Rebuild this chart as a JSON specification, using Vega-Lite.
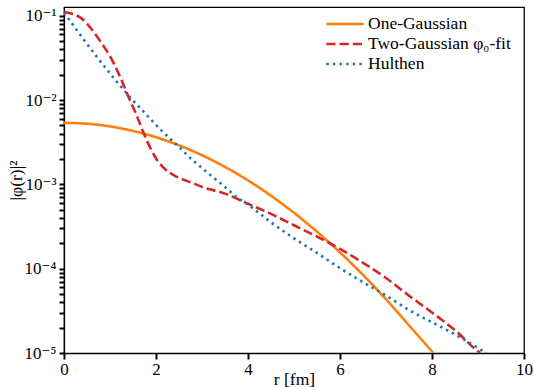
{
  "$schema": "https://vega.github.io/schema/vega-lite/v6.json",
  "width": 460,
  "height": 346,
  "autosize": {"type": "none"},
  "padding": {"left": 64, "top": 7, "right": 10, "bottom": 34},
  "config": {
    "view": {"stroke": "black", "strokeWidth": 1.25},
    "font": "Liberation Serif, DejaVu Serif, serif",
    "axis": {"labelFont": "Liberation Serif, DejaVu Serif, serif", "titleFont": "Liberation Serif, DejaVu Serif, serif", "labelColor": "black", "titleColor": "black", "titleFontWeight": "normal", "domainColor": "black", "grid": false, "domainWidth": 1.25, "labelFontSize": 17, "titleFontSize": 17.5}
  },
  "data": {"values": [
    {"r": 0.0, "p": 0.005370, "s": "One-Gaussian"},
    {"r": 0.5, "p": 0.005240, "s": "One-Gaussian"},
    {"r": 1.0, "p": 0.004868, "s": "One-Gaussian"},
    {"r": 1.5, "p": 0.004304, "s": "One-Gaussian"},
    {"r": 2.0, "p": 0.003625, "s": "One-Gaussian"},
    {"r": 2.5, "p": 0.002905, "s": "One-Gaussian"},
    {"r": 3.0, "p": 0.002216, "s": "One-Gaussian"},
    {"r": 3.5, "p": 0.001610, "s": "One-Gaussian"},
    {"r": 4.0, "p": 0.001114, "s": "One-Gaussian"},
    {"r": 4.5, "p": 0.0007333, "s": "One-Gaussian"},
    {"r": 5.0, "p": 0.0004598, "s": "One-Gaussian"},
    {"r": 5.5, "p": 0.0002744, "s": "One-Gaussian"},
    {"r": 6.0, "p": 0.0001559, "s": "One-Gaussian"},
    {"r": 6.5, "p": 0.00008431, "s": "One-Gaussian"},
    {"r": 7.0, "p": 0.00004341, "s": "One-Gaussian"},
    {"r": 7.5, "p": 0.00002129, "s": "One-Gaussian"},
    {"r": 8.03, "p": 0.00001, "s": "One-Gaussian"},

    {"r": 0.0, "p": 0.1109, "s": "Two-Gaussian φ₀-fit"},
    {"r": 0.2, "p": 0.1047, "s": "Two-Gaussian φ₀-fit"},
    {"r": 0.4, "p": 0.0912, "s": "Two-Gaussian φ₀-fit"},
    {"r": 0.6, "p": 0.06918, "s": "Two-Gaussian φ₀-fit"},
    {"r": 0.8, "p": 0.04898, "s": "Two-Gaussian φ₀-fit"},
    {"r": 1.0, "p": 0.03311, "s": "Two-Gaussian φ₀-fit"},
    {"r": 1.2, "p": 0.01995, "s": "Two-Gaussian φ₀-fit"},
    {"r": 1.4, "p": 0.01096, "s": "Two-Gaussian φ₀-fit"},
    {"r": 1.6, "p": 0.006166, "s": "Two-Gaussian φ₀-fit"},
    {"r": 1.8, "p": 0.003311, "s": "Two-Gaussian φ₀-fit"},
    {"r": 2.0, "p": 0.002042, "s": "Two-Gaussian φ₀-fit"},
    {"r": 2.2, "p": 0.001514, "s": "Two-Gaussian φ₀-fit"},
    {"r": 2.4, "p": 0.001274, "s": "Two-Gaussian φ₀-fit"},
    {"r": 2.6, "p": 0.001135, "s": "Two-Gaussian φ₀-fit"},
    {"r": 2.8, "p": 0.001035, "s": "Two-Gaussian φ₀-fit"},
    {"r": 3.0, "p": 0.0009333, "s": "Two-Gaussian φ₀-fit"},
    {"r": 3.5, "p": 0.0007762, "s": "Two-Gaussian φ₀-fit"},
    {"r": 4.0, "p": 0.0005888, "s": "Two-Gaussian φ₀-fit"},
    {"r": 4.5, "p": 0.0004467, "s": "Two-Gaussian φ₀-fit"},
    {"r": 5.0, "p": 0.0003273, "s": "Two-Gaussian φ₀-fit"},
    {"r": 5.5, "p": 0.0002399, "s": "Two-Gaussian φ₀-fit"},
    {"r": 6.0, "p": 0.0001718, "s": "Two-Gaussian φ₀-fit"},
    {"r": 6.5, "p": 0.0001175, "s": "Two-Gaussian φ₀-fit"},
    {"r": 7.0, "p": 0.00007762, "s": "Two-Gaussian φ₀-fit"},
    {"r": 7.5, "p": 0.00004786, "s": "Two-Gaussian φ₀-fit"},
    {"r": 8.0, "p": 0.0000302, "s": "Two-Gaussian φ₀-fit"},
    {"r": 8.5, "p": 0.00001862, "s": "Two-Gaussian φ₀-fit"},
    {"r": 9.0, "p": 0.00001047, "s": "Two-Gaussian φ₀-fit"},
    {"r": 9.05, "p": 0.00001, "s": "Two-Gaussian φ₀-fit"},

    {"r": 0.0, "p": 0.1084, "s": "Hulthen"},
    {"r": 0.13, "p": 0.0875, "s": "Hulthen"},
    {"r": 0.25, "p": 0.07079, "s": "Hulthen"},
    {"r": 0.5, "p": 0.04634, "s": "Hulthen"},
    {"r": 0.75, "p": 0.03076, "s": "Hulthen"},
    {"r": 1.0, "p": 0.0207, "s": "Hulthen"},
    {"r": 1.25, "p": 0.01416, "s": "Hulthen"},
    {"r": 1.5, "p": 0.009886, "s": "Hulthen"},
    {"r": 1.75, "p": 0.007096, "s": "Hulthen"},
    {"r": 2.0, "p": 0.00507, "s": "Hulthen"},
    {"r": 2.25, "p": 0.003724, "s": "Hulthen"},
    {"r": 2.5, "p": 0.002786, "s": "Hulthen"},
    {"r": 2.75, "p": 0.002042, "s": "Hulthen"},
    {"r": 3.0, "p": 0.001563, "s": "Hulthen"},
    {"r": 3.25, "p": 0.001202, "s": "Hulthen"},
    {"r": 3.5, "p": 0.0009333, "s": "Hulthen"},
    {"r": 3.75, "p": 0.0007079, "s": "Hulthen"},
    {"r": 4.0, "p": 0.0005754, "s": "Hulthen"},
    {"r": 4.5, "p": 0.0003548, "s": "Hulthen"},
    {"r": 5.0, "p": 0.0002291, "s": "Hulthen"},
    {"r": 5.5, "p": 0.0001538, "s": "Hulthen"},
    {"r": 6.0, "p": 0.0001014, "s": "Hulthen"},
    {"r": 6.5, "p": 0.00006918, "s": "Hulthen"},
    {"r": 7.0, "p": 0.00004808, "s": "Hulthen"},
    {"r": 7.5, "p": 0.00003236, "s": "Hulthen"},
    {"r": 8.0, "p": 0.00002317, "s": "Hulthen"},
    {"r": 8.5, "p": 0.0000166, "s": "Hulthen"},
    {"r": 9.0, "p": 0.00001148, "s": "Hulthen"},
    {"r": 9.18, "p": 0.00001, "s": "Hulthen"}
  ]},
  "mark": {"type": "line", "interpolate": "monotone", "strokeWidth": 2.6, "clip": true},
  "encoding": {
    "x": {
      "field": "r", "type": "quantitative",
      "scale": {"domain": [0, 10], "nice": false, "zero": false},
      "axis": {"title": "r [fm]", "values": [0, 2, 4, 6, 8, 10], "ticks": true, "tickSize": 6, "tickWidth": 2, "tickColor": "black", "labelPadding": 2, "labelFlush": false, "titleY": 31, "titleBaseline": "alphabetic", "format": "d"}
    },
    "y": {
      "field": "p", "type": "quantitative",
      "scale": {"type": "log", "domain": [0.00001, 0.127], "nice": false},
      "axis": {
        "title": "|φ(r)|²",
        "titleX": -48,
        "titleBaseline": "middle",
        "labelPadding": 3,
        "ticks": true,
        "tickColor": "black",
        "tickSize": 5,
        "tickWidth": 2,
        "values": [0.00001, 0.00002, 0.00003, 0.00004, 0.00005, 0.00006, 0.00007, 0.00008, 0.00009,
                   0.0001, 0.0002, 0.0003, 0.0004, 0.0005, 0.0006, 0.0007, 0.0008, 0.0009,
                   0.001, 0.002, 0.003, 0.004, 0.005, 0.006, 0.007, 0.008, 0.009,
                   0.01, 0.02, 0.03, 0.04, 0.05, 0.06, 0.07, 0.08, 0.09, 0.1],
        "labelExpr": "abs(log(datum.value)/LN10 - round(log(datum.value)/LN10)) > 0.000001 ? '' : round(log(datum.value)/LN10) == -1 ? '10⁻¹' : round(log(datum.value)/LN10) == -2 ? '10⁻²' : round(log(datum.value)/LN10) == -3 ? '10⁻³' : round(log(datum.value)/LN10) == -4 ? '10⁻⁴' : '10⁻⁵'",
        "labelOverlap": false
      }
    },
    "color": {
      "field": "s", "type": "nominal",
      "scale": {"domain": ["One-Gaussian", "Two-Gaussian φ₀-fit", "Hulthen"], "range": ["#ff7f0e", "#d62728", "#1f77b4"]},
      "legend": {"title": null, "orient": "none", "legendX": 270, "legendY": 6, "symbolType": "M-2,0H2", "symbolSize": 350, "symbolStrokeWidth": 2.6, "labelFont": "Liberation Serif, DejaVu Serif, serif", "labelFontSize": 17.5, "labelColor": "black", "labelLimit": 0, "labelOffset": 12, "rowPadding": 0, "padding": 0}
    },
    "strokeDash": {
      "field": "s", "type": "nominal",
      "scale": {"domain": ["One-Gaussian", "Two-Gaussian φ₀-fit", "Hulthen"], "range": [[1, 0], [9.25, 4], [2.5, 4.1]]},
      "legend": {"title": null, "orient": "none", "legendX": 270, "legendY": 6, "symbolType": "M-2,0H2", "symbolSize": 350, "symbolStrokeWidth": 2.6, "labelFont": "Liberation Serif, DejaVu Serif, serif", "labelFontSize": 17.5, "labelColor": "black", "labelLimit": 0, "labelOffset": 12, "rowPadding": 0, "padding": 0}
    }
  }
}
